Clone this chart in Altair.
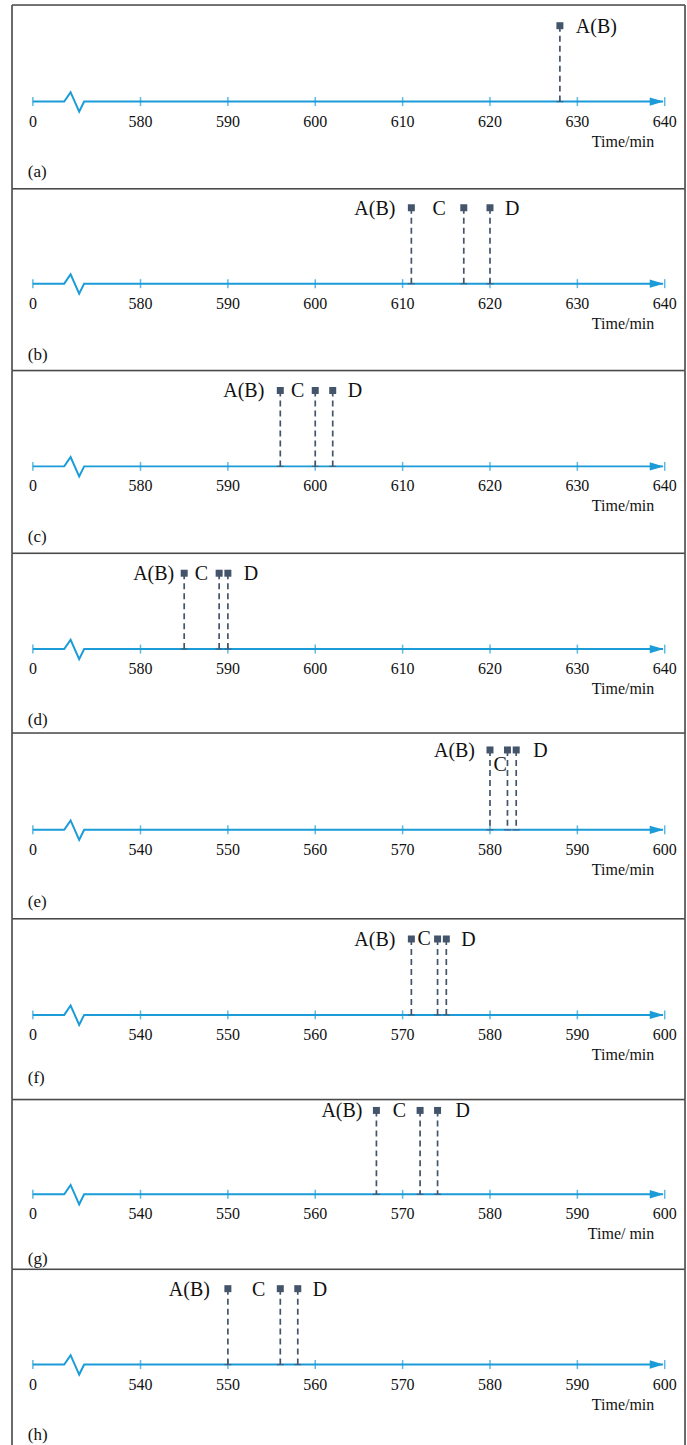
import altair as alt
import pandas as pd

# ---------------- data ----------------
PANEL_TAGS = ["(a)", "(b)", "(c)", "(d)", "(e)", "(f)", "(g)", "(h)"]
FIRST_TICK = [580, 580, 580, 580, 540, 540, 540, 540]
TICK_STEP = 10
N_TICKS = 7
EVENT_NAMES = ["A(B)", "C", "D"]
EVENT_TIMES = [
    [628],
    [611, 617, 620],
    [596, 600, 602],
    [585, 589, 590],
    [580, 582, 583],
    [571, 574, 575],
    [567, 572, 574],
    [550, 556, 558],
]
AXIS_TITLES = ["Time/min"] * 6 + ["Time/ min", "Time/min"]

# ---------------- styles / layout ----------------
PX = 8.75                 # pixels per minute
PANEL_W = 674
PAGE_H = 1449
PANEL_TOP = [6, 190, 372, 555, 735, 921, 1102, 1272]         # px of each frame top
AXIS_AT = [102.7, 285, 468, 651, 832, 1017.3, 1197, 1367.5]  # px of each time line
MARKER_RISE = [76, 76, 76, 76, 80, 76, 84, 76]               # px of markers above line
TAG_DROP = [71, 71, 71, 71, 72, 63, 65, 71]                  # px of "(x)" below line
LEFT_SPAN = 14.71         # minutes shown left of first labelled tick
RIGHT_SPAN = 62.32
ZERO_OFF = -12.32         # where the "0" tick sits, relative to first tick
BLUE = "#1b9bd8"
DARK = "#44546a"
BORDER = "#4a4a4a"
FONT = "Liberation Serif"

# label placement per panel: (align, dx px from own marker, dy px below marker)
LABEL_LAYOUT = [
    [("left", 16, 1)],
    [("right", -16, 1), ("right", -18, 1), ("left", 15, 1)],
    [("right", -16, 1), ("right", -11, 1), ("left", 15, 1)],
    [("right", -10, 1), ("right", -11, 1), ("left", 16, 1)],
    [("right", -15, 1), ("left", -14, 15), ("left", 17, 1)],
    [("right", -16, 1), ("left", -20, 0), ("left", 15, 1)],
    [("right", -14, 1), ("right", -14, 1), ("left", 18, 1)],
    [("right", -18, 1), ("right", -15, 1), ("left", 15, 1)],
]


def panel(i):
    base = FIRST_TICK[i]
    top = PANEL_TOP[i]
    bottom = PANEL_TOP[i + 1] if i + 1 < len(PANEL_TOP) else PAGE_H
    h = bottom - top
    a_from_top = AXIS_AT[i] - top
    rise = MARKER_RISE[i]
    xs = alt.Scale(domain=[base - LEFT_SPAN, base + RIGHT_SPAN], nice=False, zero=False)
    ys = alt.Scale(domain=[a_from_top - h, a_from_top], nice=False, zero=False)
    X = lambda f: alt.X(f, type="quantitative", scale=xs, axis=None)
    Y = lambda f: alt.Y(f, type="quantitative", scale=ys, axis=None)

    z = base + ZERO_OFF
    line_df = pd.DataFrame({
        "x": [z, base - 8.73, base - 8.0, base - 7.02, base - 6.45, base + 59.8],
        "y": [0, 0, 9.4, -10, 0, 0],
        "o": list(range(6)),
    })
    axis_line = alt.Chart(line_df).mark_line(color=BLUE, strokeWidth=2).encode(
        x=X("x"), y=Y("y"), order="o:Q")

    tick_vals = [z] + [base + TICK_STEP * k for k in range(N_TICKS)]
    tick_labels = ["0"] + [str(base + TICK_STEP * k) for k in range(N_TICKS)]
    tick_df = pd.DataFrame({"x": tick_vals, "label": tick_labels, "y": 0, "ly": -20})
    ticks = alt.Chart(tick_df).mark_tick(orient="vertical", color=BLUE, size=9,
                                         thickness=1.5).encode(x=X("x"), y=Y("y"))
    tlabels = alt.Chart(tick_df).mark_text(font=FONT, fontSize=16, color="#111",
                                           baseline="middle").encode(
        x=X("x"), y=Y("ly"), text="label:N")
    arrow = alt.Chart(pd.DataFrame({"x": [base + 60], "y": [0]})).mark_point(
        shape="M-2,-0.6L0,0L-2,0.6Z", size=196, filled=True, color=BLUE, opacity=1,
        strokeWidth=0, xOffset=-1).encode(x=X("x"), y=Y("y"))

    times = EVENT_TIMES[i]
    lay = LABEL_LAYOUT[i]
    ev_df = pd.DataFrame({
        "t": times,
        "name": EVENT_NAMES[:len(times)],
        "ym": rise,
        "y0": 0,
        "align": [l[0] for l in lay],
        "lx": [t + l[1] / PX for t, l in zip(times, lay)],
        "ly": [rise - l[2] for l in lay],
    })
    stems = alt.Chart(ev_df).mark_rule(color=DARK, strokeWidth=1.7,
                                       strokeDash=[6, 4]).encode(
        x=X("t"), y=Y("ym"), y2="y0")
    feet = alt.Chart(ev_df).mark_tick(orient="horizontal", color=DARK, size=7,
                                      thickness=1.3).encode(x=X("t"), y=Y("y0"))
    marks = alt.Chart(ev_df).mark_square(color=DARK, size=49, opacity=1).encode(
        x=X("t"), y=Y("ym"))
    lab_left = alt.Chart(ev_df).transform_filter("datum.align == 'left'").mark_text(
        font=FONT, fontSize=20, align="left", baseline="middle", color="#111").encode(
        x=X("lx"), y=Y("ly"), text="name:N")
    lab_right = alt.Chart(ev_df).transform_filter("datum.align == 'right'").mark_text(
        font=FONT, fontSize=20, align="right", baseline="middle", color="#111").encode(
        x=X("lx"), y=Y("ly"), text="name:N")

    ann_df = pd.DataFrame({
        "x": [base + 58.8, base - 12.9],
        "y": [-40, -TAG_DROP[i]],
        "txt": [AXIS_TITLES[i], PANEL_TAGS[i]],
        "al": ["right", "left"],
    })
    title = alt.Chart(ann_df).transform_filter("datum.al == 'right'").mark_text(
        font=FONT, fontSize=16, align="right", baseline="middle", color="#111").encode(
        x=X("x"), y=Y("y"), text="txt:N")
    tag = alt.Chart(ann_df).transform_filter("datum.al == 'left'").mark_text(
        font=FONT, fontSize=17, align="left", baseline="middle", color="#111").encode(
        x=X("x"), y=Y("y"), text="txt:N")

    one = alt.Data(values=[{"k": 1}])
    top_b = alt.Chart(one).mark_rule(color=BORDER, strokeWidth=1.6).encode(
        x=alt.value(0), x2=alt.value(PANEL_W), y=alt.value(0))
    left_b = alt.Chart(one).mark_rule(color=BORDER, strokeWidth=1.6).encode(
        x=alt.value(0), y=alt.value(0), y2=alt.value(h))
    right_b = alt.Chart(one).mark_rule(color=BORDER, strokeWidth=1.6).encode(
        x=alt.value(PANEL_W), y=alt.value(0), y2=alt.value(h))

    return alt.layer(top_b, left_b, right_b, axis_line, ticks, arrow, tlabels, stems,
                     feet, marks, lab_left, lab_right, title, tag).properties(
        width=PANEL_W, height=h)


chart = alt.vconcat(*[panel(i) for i in range(8)], spacing=0, bounds="flush").properties(
    padding={"left": 10, "top": 2, "right": 0, "bottom": 0}
).configure_view(stroke=None).configure(background="white")

chart.save("out.html", embed_options={"renderer": "svg", "actions": False})
